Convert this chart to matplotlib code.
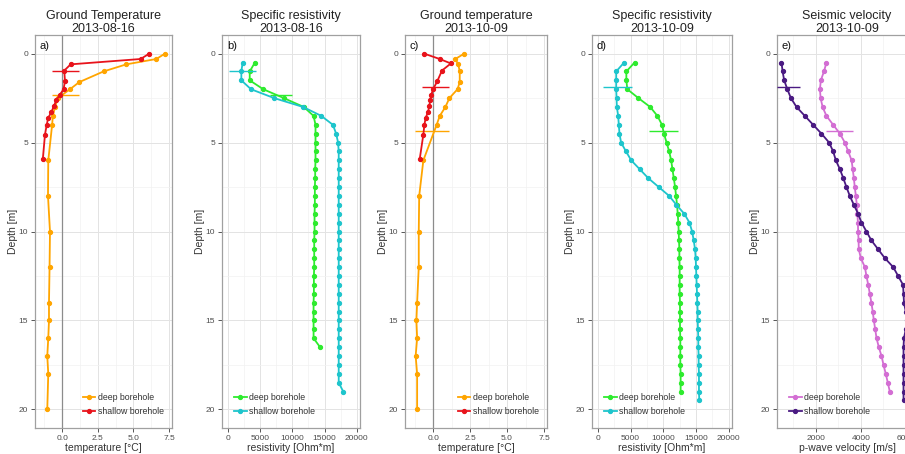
import matplotlib
matplotlib.use("Agg")
import matplotlib.pyplot as plt
from matplotlib.ticker import FixedLocator

plt.rcParams['font.family'] = ['Liberation Sans', 'DejaVu Sans']

# ---------------- data ----------------
# a) Ground temperature 2013-08-16
a_deep_depth = [0, 0.3, 0.6, 1.0, 1.6, 2.0, 2.5, 3.0, 3.5, 4.0, 6, 8, 10, 12, 14, 15, 16, 17, 18, 20]
a_deep_temp = [7.2, 6.6, 4.5, 2.9, 1.2, 0.55, -0.3, -0.5, -0.65, -0.7, -0.97, -0.99, -0.85,
               -0.88, -0.92, -0.92, -0.97, -1.04, -0.97, -1.04]
a_sh_depth = [0, 0.3, 0.6, 0.95, 1.55, 2.0, 2.3, 2.6, 2.95, 3.3, 3.6, 4.0, 4.55, 5.9]
a_sh_temp = [6.1, 5.5, 0.6, 0.15, 0.2, 0.1, -0.15, -0.4, -0.58, -0.76, -0.97, -1.08, -1.2, -1.35]
a_deep_bar = (2.35, -0.7, 1.15)
a_sh_bar = (0.95, -0.7, 1.15)

# b) Specific resistivity 2013-08-16
b_deep_depth = [0.5, 1.0, 1.5, 2.0, 2.5, 3.0, 3.5, 4.0, 4.5, 5.0, 5.5, 6.0, 6.5, 7.0, 7.5, 8.0,
                8.5, 9.0, 9.5, 10.0, 10.5, 11.0, 11.5, 12.0, 12.5, 13.0, 13.5, 14.0, 14.5,
                15.0, 15.5, 16.0, 16.5]
b_deep_res = [4200, 3400, 3400, 5500, 8700, 11800, 13300, 13600, 13600, 13600, 13600, 13600,
              13550, 13550, 13500, 13500, 13500, 13450, 13450, 13450, 13400, 13400, 13400,
              13400, 13350, 13350, 13350, 13300, 13300, 13300, 13300, 13300, 14300]
b_sh_depth = [0.5, 1.0, 1.5, 2.0, 2.5, 3.0, 3.5, 4.0, 4.5, 5.0, 5.5, 6.0, 6.5, 7.0, 7.5, 8.0,
              8.5, 9.0, 9.5, 10.0, 10.5, 11.0, 11.5, 12.0, 12.5, 13.0, 13.5, 14.0, 14.5,
              15.0, 15.5, 16.0, 16.5, 17.0, 17.5, 18.0, 18.5, 19.0]
b_sh_res = [2300, 2100, 2100, 3600, 7200, 11700, 14500, 16300, 16800, 17100, 17200, 17200,
            17200, 17200, 17200, 17200, 17200, 17200, 17200, 17200, 17200, 17200, 17200,
            17200, 17200, 17200, 17200, 17200, 17200, 17200, 17200, 17200, 17200, 17200,
            17200, 17200, 17200, 17900]
b_deep_bar = (2.3, 6600, 10000)
b_sh_bar = (1.0, 260, 4400)

# c) Ground temperature 2013-10-09
c_deep_depth = [0, 0.3, 0.6, 1.0, 1.6, 2.0, 2.5, 3.0, 3.5, 4.0, 6, 8, 10, 12, 14, 15, 16, 17, 18, 20]
c_deep_temp = [2.1, 1.5, 1.7, 1.8, 1.8, 1.65, 1.1, 0.83, 0.45, 0.24, -0.66, -0.94, -0.97,
               -0.97, -1.08, -1.13, -1.08, -1.18, -1.08, -1.08]
c_sh_depth = [0, 0.3, 0.55, 0.95, 1.55, 2.0, 2.3, 2.6, 2.95, 3.3, 3.6, 4.0, 4.55, 5.9]
c_sh_temp = [-0.6, 0.45, 1.2, 0.6, 0.28, 0.0, -0.12, -0.19, -0.26, -0.35, -0.5, -0.59, -0.66, -0.9]
c_deep_bar = (4.35, -1.25, 1.1)
c_sh_bar = (1.88, -0.78, 1.1)

# d) Specific resistivity 2013-10-09
d_deep_depth = [0.5, 1.0, 1.5, 2.0, 2.5, 3.0, 3.5, 4.0, 4.5, 5.0, 5.5, 6.0, 6.5, 7.0, 7.5, 8.0,
                8.5, 9.0, 9.5, 10.0, 10.5, 11.0, 11.5, 12.0, 12.5, 13.0, 13.5, 14.0, 14.5,
                15.0, 15.5, 16.0, 16.5, 17.0, 17.5, 18.0, 18.5, 19.0]
d_deep_res = [5600, 4350, 4350, 4500, 6200, 8000, 9100, 9800, 10100, 10500, 10900, 11200,
              11400, 11600, 11800, 11950, 12100, 12200, 12300, 12350, 12400, 12450, 12450,
              12500, 12500, 12500, 12500, 12550, 12550, 12550, 12550, 12600, 12600, 12600,
              12600, 12650, 12650, 12650]
d_sh_depth = [0.5, 1.0, 1.5, 2.0, 2.5, 3.0, 3.5, 4.0, 4.5, 5.0, 5.5, 6.0, 6.5, 7.0, 7.5, 8.0,
              8.5, 9.0, 9.5, 10.0, 10.5, 11.0, 11.5, 12.0, 12.5, 13.0, 13.5, 14.0, 14.5,
              15.0, 15.5, 16.0, 16.5, 17.0, 17.5, 18.0, 18.5, 19.0, 19.5]
d_sh_res = [4000, 2800, 2800, 2800, 2850, 2900, 3100, 3200, 3300, 3550, 4300, 5100, 6400, 7700,
            9300, 10900, 12000, 13200, 14000, 14400, 14650, 14850, 14950, 15000, 15050, 15100,
            15150, 15200, 15250, 15250, 15300, 15350, 15350, 15400, 15400, 15450, 15450,
            15450, 15500]
d_deep_bar = (4.34, 7870, 12230)
d_sh_bar = (1.88, 840, 5140)

# e) Seismic velocity 2013-10-09
e_deep_depth = [0.5, 1.0, 1.5, 2.0, 2.5, 3.0, 3.5, 4.0, 4.5, 5.0, 5.5, 6.0, 6.5, 7.0, 7.5, 8.0,
                8.5, 9.0, 9.5, 10.0, 10.5, 11.0, 11.5, 12.0, 12.5, 13.0, 13.5, 14.0, 14.5,
                15.0, 15.5, 16.0, 16.5, 17.0, 17.5, 18.0, 18.5, 19.0]
e_deep_vel = [2470, 2360, 2220, 2180, 2210, 2300, 2470, 2770, 3070, 3290, 3440, 3590, 3640,
              3690, 3730, 3780, 3820, 3850, 3870, 3880, 3900, 3910, 4000, 4180, 4250, 4330,
              4400, 4470, 4530, 4580, 4640, 4700, 4800, 4920, 5010, 5110, 5200, 5290]
e_sh_depth = [0.5, 1.0, 1.5, 2.0, 2.5, 3.0, 3.5, 4.0, 4.5, 5.0, 5.5, 6.0, 6.5, 7.0, 7.5, 8.0,
              8.5, 9.0, 9.5, 10.0, 10.5, 11.0, 11.5, 12.0, 12.5, 13.0, 13.5, 14.0, 14.5,
              15.0, 15.5, 16.0, 16.5, 17.0, 17.5, 18.0, 18.5, 19.0, 19.5]
e_sh_vel = [470, 520, 590, 730, 890, 1140, 1510, 1880, 2250, 2590, 2770, 2890, 3070, 3220,
            3360, 3510, 3690, 3880, 4030, 4250, 4470, 4770, 5070, 5440, 5660, 5880, 5900,
            5920, 6000, 6050, 6000, 5920, 5900, 5900, 5900, 5900, 5900, 5900, 5900]
e_deep_bar = (4.34, 2470, 3660)
e_sh_bar = (1.88, 250, 1290)

titles = ["Ground Temperature\n2013-08-16", "Specific resistivity\n2013-08-16",
          "Ground temperature\n2013-10-09", "Specific resistivity\n2013-10-09",
          "Seismic velocity\n2013-10-09"]
panel_tags = ["a)", "b)", "c)", "d)", "e)"]
xlabels = ["temperature [°C]", "resistivity [Ohm*m]", "temperature [°C]",
           "resistivity [Ohm*m]", "p-wave velocity [m/s]"]
legend_labels = ["deep borehole", "shallow borehole"]

# ---------------- style ----------------
ORANGE, RED = "#FFA500", "#E8131B"
GREEN, CYAN = "#2EEB2E", "#1EC5CC"
ORCHID, INDIGO = "#D36ED3", "#4A1A82"

W, H = 905, 454
fig = plt.figure(figsize=(W / 100, H / 100), dpi=100)

panel_px = [(35, 172), (222, 360), (405, 547), (592, 732), (777, 917)]
top_px, bot_px = 35, 428

temp_ticks = ([0, 2.5, 5.0, 7.5], ["0.0", "2.5", "5.0", "7.5"], [-1.25, 1.25, 3.75, 6.25])
res_ticks = ([0, 5000, 10000, 15000, 20000], ["0", "5000", "10000", "15000", "20000"],
             [2500, 7500, 12500, 17500])
vel_ticks = ([2000, 4000, 6000], ["2000", "4000", "6000"], [1000, 3000, 5000])

panels = [
    (a_deep_depth, a_deep_temp, a_sh_depth, a_sh_temp, a_deep_bar, a_sh_bar, ORANGE, RED,
     (-1.9, 7.7), temp_ticks, "lower right", True),
    (b_deep_depth, b_deep_res, b_sh_depth, b_sh_res, b_deep_bar, b_sh_bar, GREEN, CYAN,
     (-900, 20500), res_ticks, "lower left", False),
    (c_deep_depth, c_deep_temp, c_sh_depth, c_sh_temp, c_deep_bar, c_sh_bar, ORANGE, RED,
     (-1.9, 7.7), temp_ticks, "lower right", True),
    (d_deep_depth, d_deep_res, d_sh_depth, d_sh_res, d_deep_bar, d_sh_bar, GREEN, CYAN,
     (-900, 20500), res_ticks, "lower left", False),
    (e_deep_depth, e_deep_vel, e_sh_depth, e_sh_vel, e_deep_bar, e_sh_bar, ORCHID, INDIGO,
     (270, 6500), vel_ticks, "lower left", False),
]

TXT = "#4D4D4D"
for i, (dd, dv, sd, sv, dbar, sbar, cdeep, csh, xlim, ticks, lloc, vline) in enumerate(panels):
    xt, xtl, xminor = ticks
    l, r = panel_px[i]
    ax = fig.add_axes([l / W, 1 - bot_px / H, (r - l) / W, (bot_px - top_px) / H])
    ax.set_xlim(*xlim)
    ax.set_ylim(21.05, -1.05)
    ax.set_xticks(xt)
    ax.set_xticklabels(xtl)
    ax.xaxis.set_minor_locator(FixedLocator(xminor))
    ax.set_yticks([0, 5, 10, 15, 20])
    ax.yaxis.set_minor_locator(FixedLocator([2.5, 7.5, 12.5, 17.5]))
    ax.grid(which="major", color="#E3E3E3", lw=0.7, zorder=0)
    ax.grid(which="minor", color="#F2F2F2", lw=0.5, zorder=0)
    ax.set_axisbelow(True)
    for s in ax.spines.values():
        s.set_color("#A0A0A0")
        s.set_linewidth(0.9)
    ax.tick_params(which="major", length=3, width=0.7, color="#555555", labelsize=6,
                   labelcolor=TXT, pad=2)
    ax.tick_params(which="minor", length=0)
    if vline:
        ax.axvline(0, color="#8C8C8C", lw=0.9, zorder=1)
    ax.plot(dv, dd, color=cdeep, lw=1.3, marker="o", ms=2.8, label=legend_labels[0], zorder=3)
    ax.plot(sv, sd, color=csh, lw=1.3, marker="o", ms=2.8, label=legend_labels[1], zorder=4)
    ax.hlines(dbar[0], dbar[1], dbar[2], color=cdeep, lw=1.0, zorder=3)
    ax.hlines(sbar[0], sbar[1], sbar[2], color=csh, lw=1.0, zorder=3)
    ax.set_title(titles[i], fontsize=9, color="#222222", pad=1, linespacing=1.15)
    ax.set_xlabel(xlabels[i], fontsize=7.5, color="#333333", labelpad=1)
    ax.set_ylabel("Depth [m]", fontsize=7.5, color="#333333", labelpad=0.5)
    ax.text(0.035, 0.985, panel_tags[i], transform=ax.transAxes, ha="left", va="top",
            fontsize=8, color="#111111")
    if lloc == "lower right":
        leg = ax.legend(loc="lower right", bbox_to_anchor=(1.03, 0.0), frameon=False, fontsize=6.3,
                        handlelength=1.4, handletextpad=0.3, labelspacing=0.55, borderaxespad=1.0)
    else:
        leg = ax.legend(loc="lower left", bbox_to_anchor=(0.0, 0.0), frameon=False, fontsize=6.3,
                        handlelength=1.4, handletextpad=0.3, labelspacing=0.55, borderaxespad=1.0)
    for t in leg.get_texts():
        t.set_color("#333333")

fig.savefig("out.png", dpi=100)
